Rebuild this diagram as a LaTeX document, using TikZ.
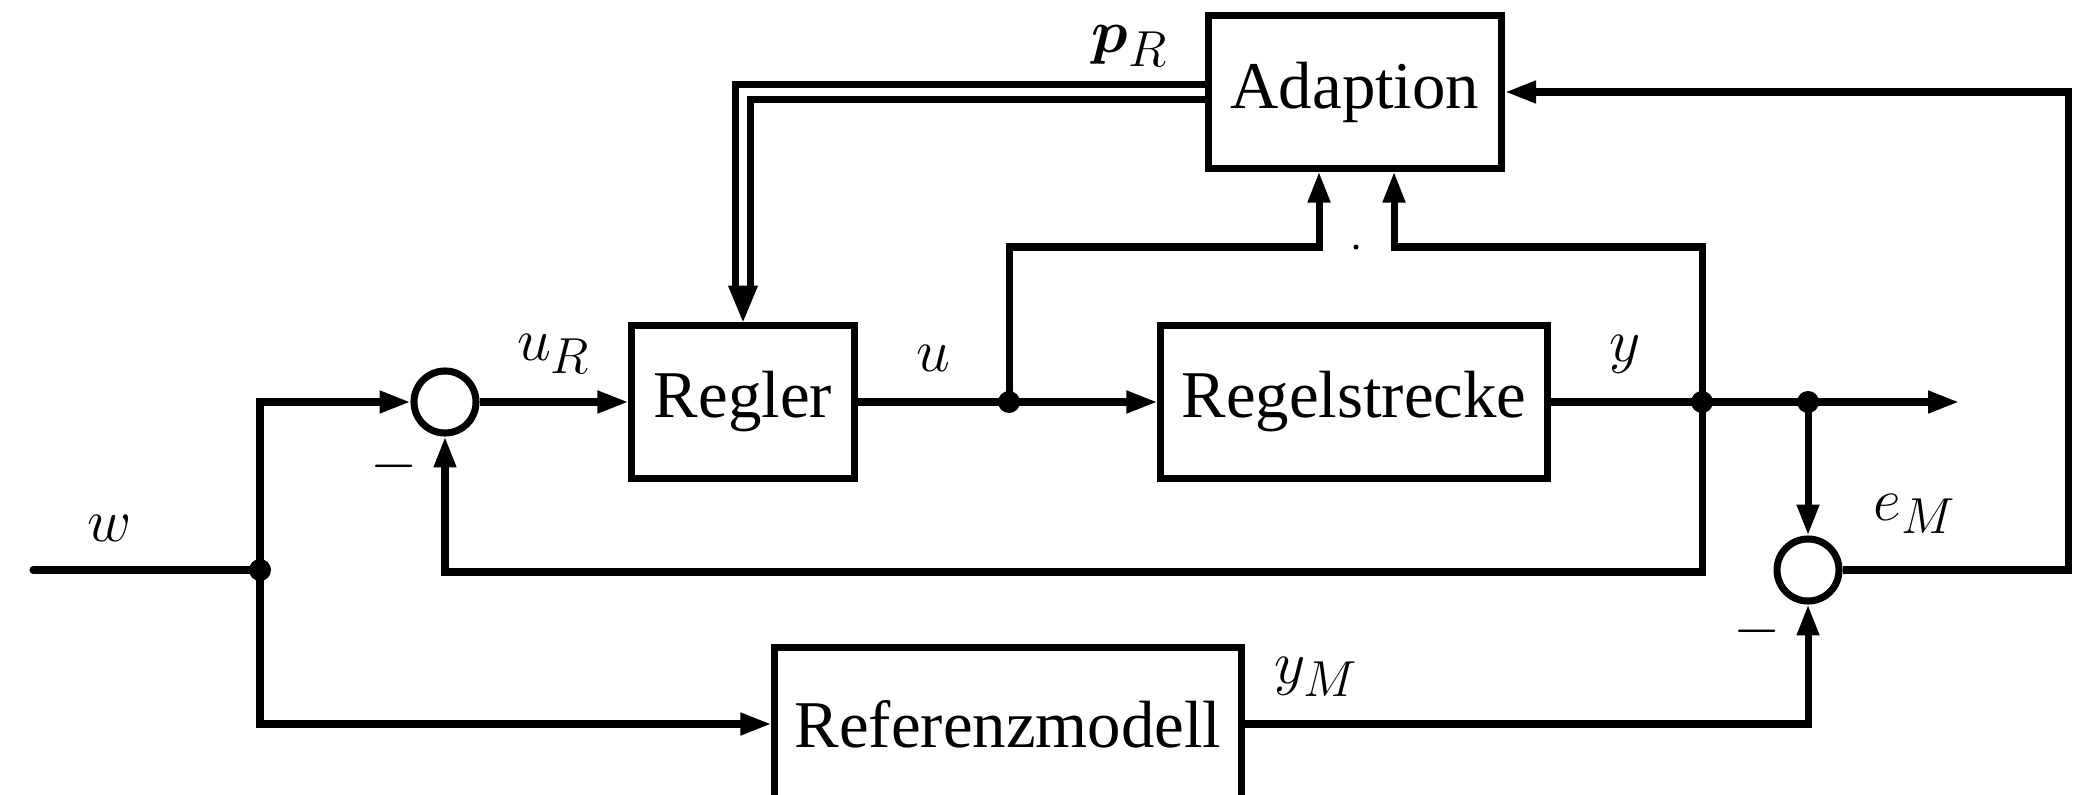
\documentclass[tikz,border=0pt]{standalone}
\usepackage{amsmath}
\usepackage[no-math]{fontspec}
\setmainfont{Liberation Serif}
\usetikzlibrary{arrows.meta}

\begin{document}
\begin{tikzpicture}[x=0.01cm, y=-0.01cm, line width=2pt,
  font=\fontsize{19}{22}\selectfont,
  block/.style={draw, rectangle, minimum height=1.52cm, inner sep=0pt},
  sumpt/.style={draw, circle, minimum size=0.62cm, inner sep=0pt},
  joint/.style={fill, circle, minimum size=0.22cm, inner sep=0pt},
  arr/.style={-{Triangle[length=8.8pt,width=6pt]}},
  darr/.style={double, double distance=2pt, -{Triangle[length=10.5pt,width=8pt]}}]
  \useasboundingbox (0,0) rectangle (2095,794);

  % blocks
  \node[block, minimum width=2.93cm] (adapt) at (1355,92) {Adaption};
  \node[block, minimum width=2.22cm] (regler) at (743,402) {Regler};
  \node[block, minimum width=3.86cm] (strecke) at (1354,402) {Regelstrecke};
  \node[block, minimum width=4.66cm] (refm) at (1008,724) {Referenzmodell};

  % summing points
  \node[sumpt] (s1) at (445,402) {};
  \node[sumpt] (s2) at (1808,570) {};

  % branch points and free ends
  \coordinate (win) at (33,570);
  \node[joint] (dw) at (260,570) {};
  \node[joint] (du) at (1009,402) {};
  \node[joint] (dy) at (1702,402) {};
  \node[joint] (dy2) at (1808,402) {};
  \coordinate (yout) at (1959,402);
  \coordinate (tl) at (1319,247);
  \coordinate (tr) at (1394,247);
  \coordinate (fb) at (1702,572);
  \coordinate (er) at (2068,570);
  \node[fill, circle, minimum size=0.05cm, inner sep=0pt] (mark) at (1356,247) {};

  % signal lines
  \draw[line cap=round] (win) -- (dw.center);
  \draw[arr] (dw.center) |- (s1.west);
  \draw[arr] (dw.center) |- (refm.west);
  \draw[arr] (s1.east) -- (regler.west);
  \draw (regler.east) -- (du.center);
  \draw[arr] (du.center) -- (strecke.west);
  \draw[arr] (du.center) |- (tl) -- (tl |- adapt.south);
  \draw (strecke.east) -- (dy.center) -- (dy2.center);
  \draw[arr] (dy2.center) -- (yout);
  \draw[arr] (dy.center) |- (tr) -- (tr |- adapt.south);
  \draw[arr] (dy.center) -- (fb) -| (s1.south);
  \draw[arr] (dy2.center) -- (s2.north);
  \draw[arr] (refm.east) -| (s2.south);
  \draw[arr] (s2.east) -- (er) |- (adapt.east);
  \draw[darr] (adapt.west) -| (regler.north);

  % labels
  \node (lw) at (110,528) {$w$};
  \node (luR) at (554,354) {$u_R$};
  \node (lu) at (933,358) {$u$};
  \node (ly) at (1625,354) {$y$};
  \node (leM) at (1915,514) {$e_M$};
  \node (lyM) at (1316,677) {$y_M$};
  \node (lpR) at (1130,46) {$\boldsymbol{p}_R$};
  \node (m1) at (394,466) {$-$};
  \node (m2) at (1757,631) {$-$};
\end{tikzpicture}
\end{document}
